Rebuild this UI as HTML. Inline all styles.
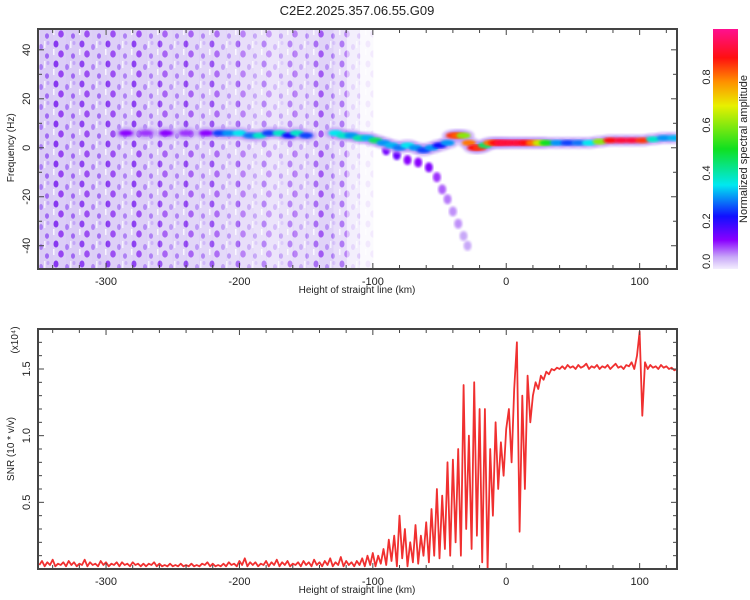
<!DOCTYPE html>
<html><head><meta charset="utf-8"><style>
body{margin:0;background:#fff;}
svg{display:block;font-family:"Liberation Sans",sans-serif;}
</style></head><body>
<svg id="chart" width="750" height="600" viewBox="0 0 750 600" xmlns="http://www.w3.org/2000/svg">
<defs>
<pattern id="speck" width="26" height="20" patternUnits="userSpaceOnUse">
<rect width="26" height="20" fill="#d8c8f6"/>
<ellipse cx="4" cy="4" rx="2.5" ry="3.5" fill="#7a22ee"/>
<ellipse cx="15" cy="7" rx="2" ry="3" fill="#a878f4"/>
<ellipse cx="9" cy="14" rx="2.8" ry="3.6" fill="#8a30f0"/>
<ellipse cx="21" cy="16" rx="2" ry="2.8" fill="#9a60f2"/>
<ellipse cx="22" cy="3" rx="1.5" ry="2" fill="#c0a0f8"/>
<rect x="1" y="9" width="1.5" height="6" fill="#fff" opacity="0.8"/>
<rect x="18" y="1" width="1.5" height="7" fill="#fff" opacity="0.7"/>
</pattern>
<linearGradient id="cbar" x1="0" y1="1" x2="0" y2="0">
<stop offset="0" stop-color="#f4eefe"/><stop offset="0.05" stop-color="#c8a8f8"/>
<stop offset="0.12" stop-color="#8a00ff"/><stop offset="0.22" stop-color="#1010ff"/>
<stop offset="0.35" stop-color="#00e8f0"/><stop offset="0.5" stop-color="#10e020"/>
<stop offset="0.68" stop-color="#e8f000"/><stop offset="0.78" stop-color="#ff9000"/>
<stop offset="0.88" stop-color="#ff1010"/><stop offset="1" stop-color="#ff1090"/>
</linearGradient>
<filter id="blur"><feGaussianBlur stdDeviation="1.2"/></filter>
<clipPath id="clipTop"><rect x="38" y="29" width="639" height="240"/></clipPath>
<clipPath id="clipBot"><rect x="38" y="329" width="639" height="240"/></clipPath>
</defs>
<text x="357" y="15" font-size="13" text-anchor="middle" fill="#222">C2E2.2025.357.06.55.G09</text>
<g id="topPanel"></g>
<g id="botPanel"></g>
</svg>
<script>
// ---- data ----
const bgBinStartKm = [-350,-340,-330,-320,-310,-300,-290,-280,-270,-260,-250,-240,-230,-220,-210,-200,-190,-180,-170,-160,-150,-140,-130,-120,-110];
const bgLevel = [0.95,0.9,0.95,0.85,0.9,0.85,0.8,0.85,0.8,0.75,0.8,0.75,0.75,0.7,0.65,0.6,0.55,0.5,0.55,0.6,0.65,0.8,0.6,0.3,0.1];
const trackKm = [-285,-270,-255,-240,-225,-215,-208,-200,-192,-185,-178,-170,-163,-157,-150,-128,-122,-116,-110,-104,-98,-92,-86,-80,-74,-68,-62,-56,-50,-44,-40,-36,-32,-28,-24,-20,-16,-12,-8,-4,0,5,10,15,20,25,30,38,46,54,62,70,78,86,94,102,110,118,126];
const trackFreq = [6,6,6,6,6,6,6,6,5,5,6,6,5,6,5,6,5,5,4,4,3,2,1,0,1,0,-1,0,1,2,5,5,5,2,0,0,1,2,2,2,2,2,2,2,2,2,2,2,2,2,2,2.5,3,3,3,3,3.5,4,4];
const trackAmp = [0.12,0.1,0.12,0.1,0.12,0.25,0.3,0.35,0.28,0.38,0.25,0.38,0.22,0.38,0.25,0.35,0.38,0.3,0.4,0.32,0.45,0.3,0.32,0.28,0.35,0.3,0.25,0.3,0.22,0.3,0.85,0.82,0.6,0.8,0.88,0.85,0.45,0.8,0.88,0.92,0.92,0.92,0.92,0.88,0.8,0.65,0.5,0.3,0.25,0.28,0.35,0.6,0.88,0.92,0.92,0.85,0.38,0.3,0.32];
const branchKm = [-90,-82,-74,-66,-58,-52,-48,-44,-40,-36,-32,-29];
const branchFreq = [-1,-3,-5,-6,-8,-12,-17,-21,-26,-31,-36,-40];
const branchAmp = [0.14,0.15,0.12,0.12,0.13,0.1,0.08,0.07,0.06,0.06,0.05,0.05];
const snrStartKm = -350, snrStepKm = 2;
const snrValues = [
0.03,0.06,0.02,0.05,0.03,0.07,0.02,0.04,0.03,0.05,
0.02,0.06,0.03,0.05,0.02,0.04,0.03,0.07,0.02,0.05,
0.03,0.04,0.02,0.06,0.03,0.05,0.02,0.04,0.03,0.05,
0.02,0.05,0.03,0.04,0.02,0.05,0.03,0.04,0.02,0.04,
0.02,0.04,0.03,0.05,0.02,0.04,0.02,0.03,0.02,0.04,
0.02,0.03,0.02,0.04,0.02,0.03,0.02,0.04,0.02,0.03,
0.02,0.04,0.03,0.05,0.02,0.04,0.02,0.03,0.02,0.04,
0.02,0.05,0.03,0.04,0.02,0.06,0.03,0.08,0.02,0.05,
0.03,0.05,0.02,0.04,0.03,0.06,0.02,0.05,0.03,0.07,
0.02,0.05,0.03,0.06,0.02,0.04,0.03,0.05,0.02,0.06,
0.03,0.05,0.02,0.07,0.03,0.05,0.02,0.06,0.03,0.08,
0.02,0.05,0.03,0.09,0.02,0.06,0.03,0.05,0.02,0.06,
0.03,0.08,0.02,0.1,0.03,0.12,
0.02,0.1,0.04,0.15,0.03,0.22,0.06,0.25,0.02,0.4,
0.08,0.3,0.02,0.2,0.05,0.33,0.04,0.25,0.1,0.35,
0.05,0.45,0.1,0.6,0.08,0.55,0.15,0.8,0.1,0.82,
0.2,0.9,0.1,1.38,0.3,1.0,0.15,1.4,0.25,1.2,
0.05,1.2,0.0,0.9,0.4,1.1,0.6,0.95,0.7,1.05,
1.2,0.8,1.35,1.7,0.28,1.3,0.6,1.45,1.1,1.3,
1.4,1.35,1.45,1.42,1.48,1.46,1.5,1.49,1.51,1.5,
1.52,1.5,1.53,1.51,1.52,1.5,1.53,1.51,1.52,1.54,1.5,1.52,1.51,1.53,1.5,1.52,1.51,1.53,1.5,1.52,1.54,1.51,1.52,1.5,1.53,1.52,1.55,1.5,1.6,
1.78,1.15,
1.55,1.5,1.53,1.51,1.52,1.5,1.53,1.51,1.52,1.5,1.51,1.49,1.5];
const xTickLabels = [-300,-200,-100,0,100];
const fTickLabels = [-40,-20,0,20,40];
const snrTickLabels = [0.5,1.0,1.5];
const cbTickLabels = [0.0,0.2,0.4,0.6,0.8];

// ---- axes ----
const NS='http://www.w3.org/2000/svg';
const X0=38,X1=677,KM0=-351,KM1=128;
const xs=k=>X0+(k-KM0)/(KM1-KM0)*(X1-X0);
const TY0=29,TY1=269,F0=-49.5,F1=48.5;
const fy=f=>TY1-(f-F0)/(F1-F0)*(TY1-TY0);
const BY0=329,BY1=569,S0=0,S1=1.8;
const sy=s=>BY1-(s-S0)/(S1-S0)*(BY1-BY0);
const CBX=713,CBW=25;
const cy=v=>269-v*240;
function el(tag,attrs,parent){const e=document.createElementNS(NS,tag);for(const k in attrs)e.setAttribute(k,attrs[k]);parent.appendChild(e);return e;}
function cmap(v){
 const st=[[0,[244,238,254]],[0.05,[200,168,248]],[0.12,[138,0,255]],[0.22,[16,16,255]],[0.35,[0,232,240]],[0.5,[16,224,32]],[0.68,[232,240,0]],[0.78,[255,144,0]],[0.88,[255,16,16]],[1,[255,16,144]]];
 for(let i=1;i<st.length;i++){if(v<=st[i][0]){const a=st[i-1],b=st[i],t=(v-a[0])/(b[0]-a[0]);return 'rgb('+a[1].map((c,j)=>Math.round(c+(b[1][j]-c)*t)).join(',')+')';}}
 return 'rgb(255,16,144)';
}
const topG=document.getElementById('topPanel'), botG=document.getElementById('botPanel');
const gT=el('g',{'clip-path':'url(#clipTop)'},topG);
bgBinStartKm.forEach((k,i)=>{
 const r=el('rect',{x:xs(k),y:TY0,width:xs(k+10)-xs(k)+0.5,height:TY1-TY0,fill:'url(#speck)',opacity:bgLevel[i]},gT);
 
 
});
branchKm.forEach((k,i)=>{
 const e=el('ellipse',{cx:xs(k),cy:fy(branchFreq[i]),rx:4,ry:5,fill:cmap(branchAmp[i]),filter:'url(#blur)'},gT);
 
 
});
trackKm.forEach((k,i)=>{
 const e=el('ellipse',{cx:xs(k),cy:fy(trackFreq[i]),rx:11,ry:6,fill:'#b890f6',opacity:0.6,filter:'url(#blur)'},gT);
 
 
});
trackKm.forEach((k,i)=>{
 const e=el('ellipse',{cx:xs(k),cy:fy(trackFreq[i]),rx:7,ry:3,fill:cmap(trackAmp[i]),filter:'url(#blur)'},gT);
 
 
});
function drawFrame(g,y0,y1){el('rect',{x:X0,y:y0,width:X1-X0,height:y1-y0,fill:'none',stroke:'#444','stroke-width':2},g);}
drawFrame(topG,TY0,TY1);
function xTicks(g,y0,y1,name){
 for(let k=-340;k<=120;k+=20){const x=xs(k),big=k%100===0,L=big?6:4;
  el('line',{x1:x,x2:x,y1:y1,y2:y1-L,stroke:'#444'},g);el('line',{x1:x,x2:x,y1:y0,y2:y0+L,stroke:'#444'},g);}
 xTickLabels.forEach(v=>{const t=el('text',{x:xs(v),y:y1+16,'font-size':11,'text-anchor':'middle',fill:'#222'},g);t.textContent=v;
  
  });
 const t=el('text',{x:357,y:y1+24,'font-size':10,'text-anchor':'middle',fill:'#222'},g);t.textContent='Height of straight line (km)';
 
 
}
xTicks(topG,TY0,TY1,'x-axis-title-top');
for(let f=-40;f<=40;f+=10){const y=fy(f),L=f%20===0?6:4;
 el('line',{x1:X0,x2:X0+L,y1:y,y2:y,stroke:'#444'},topG);el('line',{x1:X1,x2:X1-L,y1:y,y2:y,stroke:'#444'},topG);}
fTickLabels.forEach(v=>{const t=el('text',{transform:`translate(30,${fy(v)}) rotate(-90)`,'font-size':11,'text-anchor':'middle',fill:'#222'},topG);t.textContent=v;
 
 });
const yt=el('text',{transform:`translate(14,${fy(0)}) rotate(-90)`,'font-size':10,'text-anchor':'middle',fill:'#222'},topG);yt.textContent='Frequency (Hz)';


const cb=el('rect',{x:CBX,y:29,width:CBW,height:240,fill:'url(#cbar)'},topG);


cbTickLabels.forEach(v=>{const t=el('text',{transform:`translate(${CBX-3},${cy(v)}) rotate(-90)`,'font-size':11,'text-anchor':v===0?'start':'middle',fill:'#222'},topG);t.textContent=v.toFixed(1);
 
 });
const ct=el('text',{transform:`translate(747,149) rotate(-90)`,'font-size':11,'text-anchor':'middle',fill:'#222'},topG);ct.textContent='Normalized spectral amplitude';


const gB=el('g',{'clip-path':'url(#clipBot)'},botG);
const pts=snrValues.map((v,i)=>xs(snrStartKm+i*snrStepKm).toFixed(1)+','+sy(v).toFixed(1)).join(' ');
const ln=el('polyline',{points:pts,fill:'none',stroke:'#f03030','stroke-width':1.8,'stroke-linejoin':'round'},gB);


drawFrame(botG,BY0,BY1);
xTicks(botG,BY0,BY1,'x-axis-title-bottom');
for(let i=1;i<=17;i++){const s=i/10,y=sy(s),L=i%5===0?6:4;
 el('line',{x1:X0,x2:X0+L,y1:y,y2:y,stroke:'#444'},botG);el('line',{x1:X1,x2:X1-L,y1:y,y2:y,stroke:'#444'},botG);}
snrTickLabels.forEach(v=>{const t=el('text',{transform:`translate(30,${sy(v)}) rotate(-90)`,'font-size':11,'text-anchor':'middle',fill:'#222'},botG);t.textContent=v.toFixed(1);
 
 });
const st=el('text',{transform:`translate(14,${sy(0.9)}) rotate(-90)`,'font-size':10,'text-anchor':'middle',fill:'#222'},botG);st.textContent='SNR (10 * v/v)';


const ex=el('text',{transform:`translate(18,340) rotate(-90)`,'font-size':10,'text-anchor':'middle',fill:'#222'},botG);ex.textContent='(x10⁴)';


</script>
</body></html>
